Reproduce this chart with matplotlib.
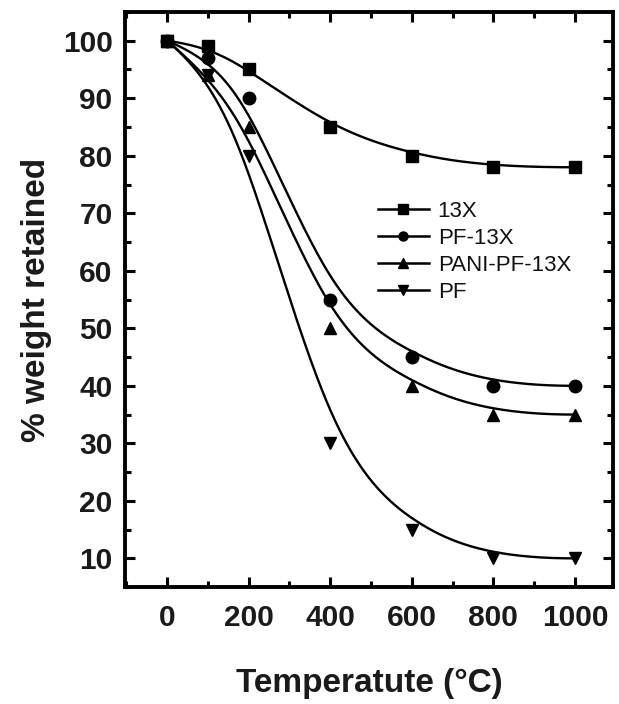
import numpy as np
import matplotlib
matplotlib.use("Agg")
import matplotlib.pyplot as plt
from matplotlib.ticker import MultipleLocator

temperature = [0, 100, 200, 400, 600, 800, 1000]
w_13x = [100, 99, 95, 85, 80, 78, 78]
w_pf13x = [100, 97, 90, 55, 45, 40, 40]
w_pani = [100, 94, 85, 50, 40, 35, 35]
w_pf = [100, 94, 80, 30, 15, 10, 10]
series_labels = ["13X", "PF-13X", "PANI-PF-13X", "PF"]

plt.rcParams['font.family'] = ['Liberation Sans', 'DejaVu Sans']


def bspline_curve(x, y, k=3, num=400):
    """Clamped B-spline using the data points as control points (Origin-style B-spline line)."""
    P = np.column_stack([np.asarray(x, float), np.asarray(y, float)])
    n = len(P)
    inner = np.arange(1, n - k)
    knots = np.concatenate([np.zeros(k + 1), inner, np.full(k + 1, n - k)]).astype(float)
    u = np.linspace(0, n - k, num)
    u[-1] -= 1e-9
    N = np.zeros((num, len(knots) - 1))
    for i in range(len(knots) - 1):
        N[:, i] = ((u >= knots[i]) & (u < knots[i + 1])).astype(float)
    for d in range(1, k + 1):
        Nn = np.zeros((num, len(knots) - 1 - d))
        for i in range(len(knots) - 1 - d):
            a = 0.0
            den1 = knots[i + d] - knots[i]
            den2 = knots[i + d + 1] - knots[i + 1]
            if den1 > 0:
                a = a + (u - knots[i]) / den1 * N[:, i]
            if den2 > 0:
                a = a + (knots[i + d + 1] - u) / den2 * N[:, i + 1]
            Nn[:, i] = a
        N = Nn
    C = N @ P
    return C[:, 0], C[:, 1]


fig = plt.figure(figsize=(6.19, 7.04), dpi=100)
ax = fig.add_axes([0.202, 0.166, 0.788, 0.817])

markers = ['s', 'o', '^', 'v']
data = [w_13x, w_pf13x, w_pani, w_pf]
for lab, m, yv in zip(series_labels, markers, data):
    cx, cy = bspline_curve(temperature, yv)
    ax.plot(cx, cy, color='black', lw=1.7)
    ax.plot(temperature, yv, linestyle='none', marker=m, color='black', markersize=9)
    ax.plot([], [], color='black', lw=1.8, marker=m, markersize=6.5, label=lab)

ax.set_xlim(-103, 1093)
ax.set_ylim(5, 105)
ax.xaxis.set_major_locator(MultipleLocator(200))
ax.xaxis.set_minor_locator(MultipleLocator(100))
ax.yaxis.set_major_locator(MultipleLocator(10))
ax.yaxis.set_minor_locator(MultipleLocator(5))
ax.tick_params(which='both', direction='in', top=True, right=True, width=2.2, color='black')
ax.tick_params(which='major', length=7)
ax.tick_params(which='minor', length=4)
ax.tick_params(axis='x', which='major', pad=12)
ax.tick_params(axis='y', which='major', pad=9)
for sp in ax.spines.values():
    sp.set_linewidth(2.8)

for t in ax.get_xticklabels() + ax.get_yticklabels():
    t.set_fontsize(21.5)
    t.set_fontweight('bold')
    t.set_color('#1a1a1a')

ax.set_xlabel('Temperatute (°C)', fontsize=24, fontweight='bold', color='#1a1a1a', labelpad=26)
ax.set_ylabel('% weight retained', fontsize=24, fontweight='bold', color='#1a1a1a', labelpad=8)

leg = ax.legend(loc='upper left', bbox_to_anchor=(0.518, 0.672), frameon=False,
                fontsize=16, handlelength=2.3, handletextpad=0.4, labelspacing=0.27,
                borderaxespad=0, borderpad=0)
for t in leg.get_texts():
    t.set_color('#111111')

fig.savefig('out.png', dpi=100)
